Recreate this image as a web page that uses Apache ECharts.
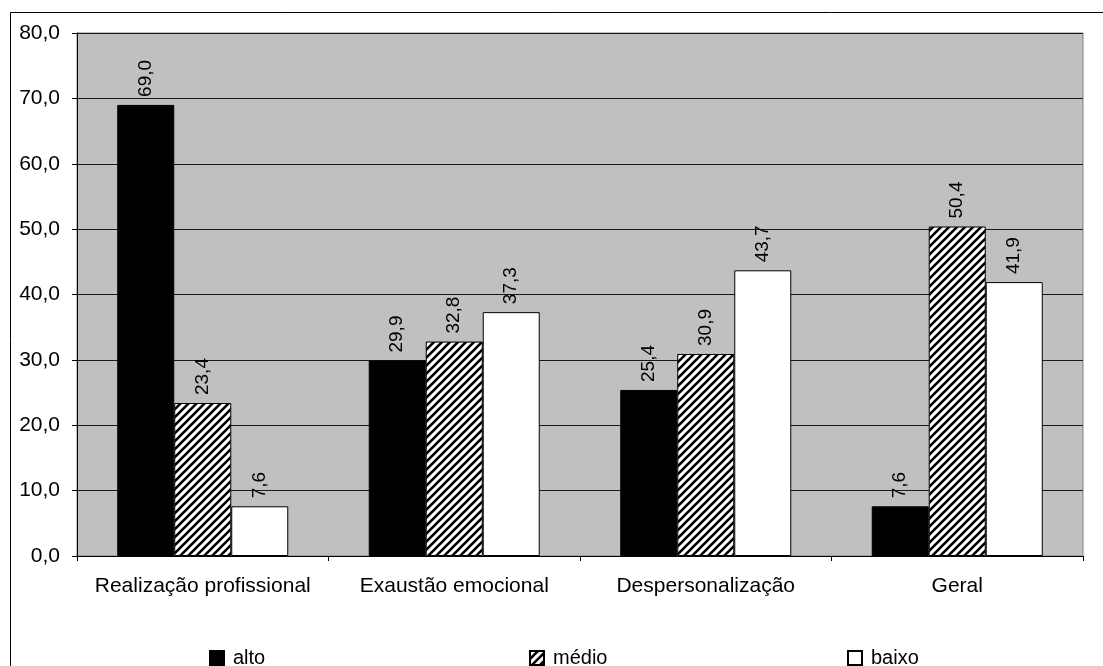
<!DOCTYPE html>
<html lang="pt">

<head>
    <meta charset="UTF-8">
    <title>burnout</title>
    <style>
        html,
        body,
        #chart {
            margin: 0;
            padding: 0;
            overflow: hidden;
            width: 100%;
            height: 100%;
            background: #fff;
        }
    </style>
</head>

<body>
    <div id="chart"></div>
    <script src="https://cdn.jsdelivr.net/npm/echarts@6/dist/echarts.min.js"></script>
    <script>
        var categories = ["Realização profissional", "Exaustão emocional", "Despersonalização", "Geral"];
        var alto = [69.0, 29.9, 25.4, 7.6];
        var medio = [23.4, 32.8, 30.9, 50.4];
        var baixo = [7.6, 37.3, 43.7, 41.9];
        var seriesNames = ["alto", "médio", "baixo"];

        var font = "'Liberation Sans', Arial, sans-serif";

        function comma(v) {
            return Number(v).toFixed(1).replace(".", ",");
        }

        // listras diagonais para a série "médio"
        function hatch() {
            var c = document.createElement("canvas");
            c.width = 8;
            c.height = 8;
            var ctx = c.getContext("2d");
            ctx.fillStyle = "#fff";
            ctx.fillRect(0, 0, 8, 8);
            ctx.strokeStyle = "#000";
            ctx.lineWidth = 2.6;
            ctx.beginPath();
            ctx.moveTo(-2, 10); ctx.lineTo(10, -2);
            ctx.moveTo(-2, 2); ctx.lineTo(2, -2);
            ctx.moveTo(6, 10); ctx.lineTo(10, 6);
            ctx.stroke();
            return c;
        }

        var label = {
            show: true,
            position: "top",
            rotate: 90,
            align: "left",
            verticalAlign: "middle",
            distance: 8,
            color: "#000",
            fontSize: 19,
            fontFamily: font,
            formatter: function (p) { return comma(p.value); }
        };

        function bar(name, data, fill) {
            return {
                name: name,
                type: "bar",
                data: data,
                barGap: "0%",
                barCategoryGap: "32%",
                itemStyle: { color: fill, borderColor: "#000", borderWidth: 1 },
                label: label,
                emphasis: { disabled: true }
            };
        }

        function legendAt(name, left) {
            return {
                data: [name],
                left: left,
                top: 643,
                icon: "rect",
                itemWidth: 14,
                itemHeight: 14,
                itemGap: 0,
                selectedMode: false,
                textStyle: { color: "#000", fontSize: 20, fontFamily: font, padding: [0, 0, 0, 4] }
            };
        }

        var chart = echarts.init(document.getElementById("chart"));
        chart.setOption({
            animation: false,
            backgroundColor: "#fff",
            grid: {
                left: 77,
                right: 20,
                top: 33,
                bottom: 110,
                show: true,
                backgroundColor: "#c0c0c0",
                borderColor: "#808080",
                borderWidth: 1
            },
            graphic: [{
                type: "rect",
                shape: { x: 10.5, y: 12.5, width: 1200, height: 700 },
                style: { fill: null, stroke: "#000", lineWidth: 1 },
                silent: true
            }],
            legend: [
                legendAt(seriesNames[0], 204),
                legendAt(seriesNames[1], 524),
                legendAt(seriesNames[2], 842)
            ],
            xAxis: {
                type: "category",
                data: categories,
                axisLine: { lineStyle: { color: "#000", width: 1 } },
                axisTick: { show: true, interval: 0, length: 5, lineStyle: { color: "#000" } },
                axisLabel: { interval: 0, color: "#000", fontSize: 21, fontFamily: font, margin: 20 }
            },
            yAxis: {
                type: "value",
                min: 0,
                max: 80,
                interval: 10,
                axisLine: { show: true, lineStyle: { color: "#000", width: 1 } },
                axisTick: { show: true, length: 5, lineStyle: { color: "#000" } },
                axisLabel: {
                    color: "#000", fontSize: 21, fontFamily: font, margin: 17,
                    formatter: comma
                },
                splitLine: { lineStyle: { color: "#1a1a1a", width: 1 } }
            },
            series: [
                bar(seriesNames[0], alto, "#000"),
                bar(seriesNames[1], medio, { image: hatch(), repeat: "repeat" }),
                bar(seriesNames[2], baixo, "#fff")
            ]
        });
    </script>
</body>

</html>
